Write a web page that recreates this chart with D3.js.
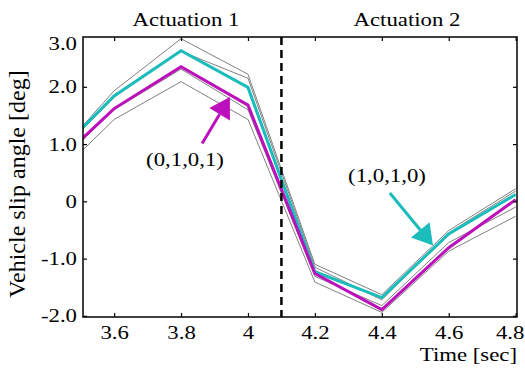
<!DOCTYPE html>
<html>
<head>
<meta charset="utf-8">
<script src="https://cdn.jsdelivr.net/npm/d3@7"></script>
<style>
  body { margin: 0; background: #fff; }
  svg text { font-family: "Liberation Serif", "Times New Roman", Times, serif !important; fill: #000; }
</style>
</head>
<body>
<div id="chart"></div>
<script>
// time samples (sec)
const times = [3.5, 3.6, 3.8, 4.0, 4.2, 4.4, 4.6, 4.8];
// highlighted actuation patterns
const cyanSeries    = [1.25, 1.84, 2.63, 1.99, -1.23, -1.68, -0.57, 0.12];   // (1,0,1,0)
const magentaSeries = [1.07, 1.62, 2.35, 1.68, -1.26, -1.89, -0.81, 0.03];   // (0,1,0,1)
// other patterns (thin gray)
const graySeries = [
  [1.28, 1.93, 2.84, 2.22, -1.10, -1.63, -0.51, 0.22],
  [1.22, 1.82, 2.62, 2.15, -1.15, -1.72, -0.55, 0.18],
  [1.04, 1.60, 2.31, 1.60, -1.31, -1.82, -0.72, -0.10],
  [0.86, 1.43, 2.09, 1.43, -1.41, -1.94, -0.87, -0.26]
];
const xTicks = [3.6, 3.8, 4.0, 4.2, 4.4, 4.6, 4.8];
const yTicks = [-2, -1, 0, 1, 2, 3];
const switchTime = 4.1;

const W = 525, H = 369;
const pL = 83, pR = 517, pT = 37, pB = 317;
const sx = 1.2; // horizontal stretch of the original figure's text

const svg = d3.select('#chart').append('svg')
  .attr('width', W).attr('height', H);

const x = d3.scaleLinear().domain([3.507, 4.804]).range([pL, pR]);
const y = d3.scaleLinear().domain([-2.02, 2.87]).range([pB, pT]).clamp(true);

svg.append('clipPath').attr('id', 'clip')
  .append('rect').attr('x', pL).attr('y', pT)
  .attr('width', pR - pL).attr('height', pB - pT);

const line = d3.line().x(d => x(d[0])).y(d => y(d[1]));
const pts = s => times.map((t, i) => [t, s[i]]);

const plot = svg.append('g').attr('clip-path', 'url(#clip)');

graySeries.forEach(s => {
  plot.append('path').attr('d', line(pts(s)))
    .attr('fill', 'none').attr('stroke', '#808080').attr('stroke-width', 1);
});
plot.append('path').attr('d', line(pts(cyanSeries)))
  .attr('fill', 'none').attr('stroke', '#1bbcbc').attr('stroke-width', 3);
plot.append('path').attr('d', line(pts(magentaSeries)))
  .attr('fill', 'none').attr('stroke', '#bb10bb').attr('stroke-width', 3);

// switching instant
svg.append('line')
  .attr('x1', x(switchTime)).attr('x2', x(switchTime))
  .attr('y1', pT).attr('y2', pB)
  .attr('stroke', '#000').attr('stroke-width', 2.5)
  .attr('stroke-dasharray', '8,5');

// axes (ticks pointing inwards)
const fmtX = d => d === 4 ? '4' : d.toFixed(1);
const fmtY = d => d === 0 ? '0' : d.toFixed(1);

function styleAxis(g) {
  g.attr('font-family', null);
  g.select('.domain').remove();
  g.selectAll('.tick line').attr('stroke', '#000').attr('stroke-width', 1.2);
  g.selectAll('text').style('font-size', '19px')
    .attr('fill', '#000').attr('transform', `scale(${sx},1)`);
}

const xAxisG = svg.append('g').attr('transform', `translate(0,${pB})`)
  .call(d3.axisBottom(x).tickValues(xTicks).tickFormat(fmtX).tickSizeInner(-4).tickSizeOuter(0).tickPadding(9))
  .call(styleAxis);
xAxisG.selectAll('.tick').filter(d => d === 4.8).select('text').attr('x', -5);
svg.append('g').attr('transform', `translate(0,${pT})`)
  .call(d3.axisTop(x).tickValues(xTicks).tickFormat('').tickSizeInner(-4).tickSizeOuter(0))
  .call(styleAxis);
const yAxisG = svg.append('g').attr('transform', `translate(${pL},0)`)
  .call(d3.axisLeft(y).tickValues(yTicks).tickFormat(fmtY).tickSizeInner(-4).tickSizeOuter(0).tickPadding(5))
  .call(styleAxis);
yAxisG.selectAll('.tick').filter(d => d === 3).select('text').attr('y', 6);
yAxisG.selectAll('.tick').filter(d => d === 3).select('line').remove();
svg.append('g').attr('transform', `translate(${pR},0)`)
  .call(d3.axisRight(y).tickValues(yTicks.slice(0, 5)).tickFormat('').tickSizeInner(-4).tickSizeOuter(0))
  .call(styleAxis);

// frame
svg.append('rect')
  .attr('x', pL).attr('y', pT).attr('width', pR - pL).attr('height', pB - pT)
  .attr('fill', 'none').attr('stroke', '#000').attr('stroke-width', 1.5);

// texts
function label(txt, px, py, anchor) {
  svg.append('text')
    .attr('transform', `translate(${px},${py}) scale(${sx},1)`)
    .attr('text-anchor', anchor || 'middle')
    .style('font-size', '19px')
    .text(txt);
}
label('Actuation 1', 186, 26);
label('Actuation 2', 407, 26);
label('Time [sec]', pR, 361, 'end');
label('(0,1,0,1)', 185, 166);
label('(1,0,1,0)', 387, 182);

svg.append('text')
  .attr('transform', 'translate(25,184) rotate(-90)')
  .attr('text-anchor', 'middle')
  .style('font-size', '24px')
  .text('Vehicle slip angle [deg]');

// annotation arrows (tail -> tip, in data units)
function arrow(tail, tip, color) {
  const x0 = x(tail[0]), y0 = y(tail[1]), x1 = x(tip[0]), y1 = y(tip[1]);
  const dx = x1 - x0, dy = y1 - y0, len = Math.hypot(dx, dy);
  const ux = dx / len, uy = dy / len, hl = 20, hw = 12;
  const bx = x1 - ux * hl, by = y1 - uy * hl;
  svg.append('line').attr('x1', x0).attr('y1', y0).attr('x2', bx).attr('y2', by)
    .attr('stroke', color).attr('stroke-width', 3);
  svg.append('polygon')
    .attr('points', [[x1, y1], [bx - uy * hw, by + ux * hw], [bx + uy * hw, by - ux * hw]].join(' '))
    .attr('fill', color);
}
arrow([3.863, 1.01], [3.946, 1.82], '#bb10bb');
arrow([4.424, 0.145], [4.553, -0.77], '#1bbcbc');
</script>
</body>
</html>
